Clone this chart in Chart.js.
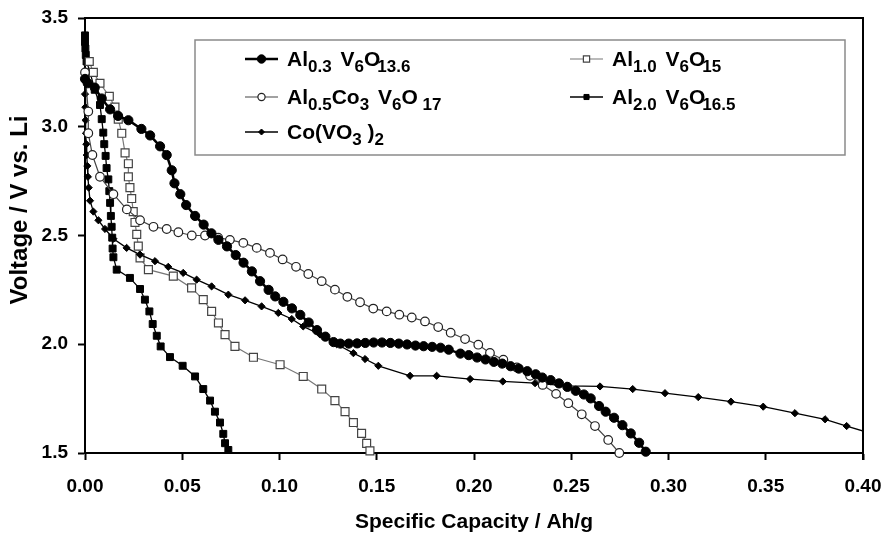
<!DOCTYPE html>
<html><head><meta charset="utf-8">
<script src="https://cdn.jsdelivr.net/npm/chart.js@4.4.1/dist/chart.umd.min.js"></script>
<style>html,body{margin:0;padding:0;background:#fff;overflow:hidden}#wrap{width:888px;height:538px;position:relative}</style>
</head><body><div id="wrap"><canvas id="c" width="888" height="538"></canvas></div>
<script>
// ---- tick labels ----
const xTicks = [0, 0.05, 0.10, 0.15, 0.20, 0.25, 0.30, 0.35, 0.40];
const yTicks = [1.5, 2.0, 2.5, 3.0, 3.5];

// ---- Al0.3V6O13.6 (filled circles) ----
const capAl03 = [0.0000,0.0014,0.0050,0.0086,0.0129,0.0170,0.0223,0.0290,0.0335,0.0386,0.0420,0.0446,0.0460,0.0490,0.0520,0.0566,0.0610,0.0650,0.0686,0.0730,0.0775,0.0815,0.0858,0.0900,0.0944,0.0978,0.1020,0.1064,0.1107,0.1150,0.1193,0.1236,0.1278,0.1313,0.1356,0.1399,0.1441,0.1484,0.1527,0.1570,0.1613,0.1656,0.1699,0.1741,0.1785,0.1828,0.1870,0.1930,0.1973,0.2016,0.2059,0.2102,0.2145,0.2188,0.2230,0.2274,0.2317,0.2351,0.2394,0.2437,0.2480,0.2523,0.2565,0.2600,0.2643,0.2677,0.2720,0.2763,0.2806,0.2849,0.2883];
const voltAl03 = [3.22,3.20,3.18,3.13,3.08,3.05,3.03,2.99,2.96,2.91,2.87,2.80,2.74,2.69,2.64,2.59,2.55,2.51,2.48,2.45,2.41,2.375,2.335,2.29,2.25,2.22,2.195,2.165,2.135,2.10,2.065,2.035,2.01,2.003,2.003,2.004,2.006,2.008,2.008,2.006,2.003,1.999,1.994,1.991,1.988,1.984,1.975,1.957,1.950,1.939,1.930,1.919,1.911,1.899,1.888,1.876,1.862,1.847,1.835,1.820,1.804,1.786,1.769,1.751,1.716,1.690,1.662,1.628,1.590,1.547,1.506];

// ---- Al0.5Co3V6O17 (open circles) ----
const capAl05 = [0.0000,0.0017,0.0017,0.0038,0.0077,0.0146,0.0215,0.0283,0.0352,0.0420,0.0480,0.0549,0.0617,0.0685,0.0745,0.0814,0.0883,0.0951,0.1016,0.1085,0.1148,0.1217,0.1285,0.1349,0.1414,0.1482,0.1551,0.1616,0.1680,0.1748,0.1816,0.1880,0.1954,0.2022,0.2082,0.2151,0.2220,0.2288,0.2353,0.2422,0.2485,0.2554,0.2622,0.2690,0.2747];
const voltAl05 = [3.25,3.07,2.97,2.87,2.77,2.69,2.62,2.57,2.54,2.53,2.515,2.50,2.50,2.49,2.48,2.466,2.443,2.42,2.39,2.356,2.323,2.29,2.251,2.218,2.193,2.164,2.151,2.136,2.123,2.105,2.079,2.053,2.024,1.998,1.96,1.929,1.893,1.855,1.813,1.772,1.729,1.678,1.624,1.56,1.50];

// ---- Co(VO3)2 (diamonds) ----
const capCo = [0.0000,0.0002,0.0003,0.0005,0.0007,0.0009,0.0012,0.0015,0.0019,0.0026,0.0043,0.0069,0.0103,0.0146,0.0214,0.0283,0.0360,0.0428,0.0505,0.0574,0.0651,0.0737,0.0823,0.0908,0.0994,0.1063,0.1122,0.1208,0.1294,0.1380,0.1440,0.1508,0.1671,0.1808,0.1980,0.2148,0.2314,0.2477,0.2648,0.2816,0.2982,0.3153,0.3321,0.3487,0.3650,0.3805,0.3916,0.4027];
const voltCo = [3.15,3.09,3.03,2.97,2.92,2.87,2.82,2.77,2.72,2.66,2.61,2.57,2.53,2.485,2.443,2.412,2.382,2.356,2.328,2.297,2.266,2.228,2.202,2.174,2.144,2.116,2.082,2.045,2.00,1.959,1.932,1.901,1.855,1.855,1.840,1.829,1.821,1.809,1.806,1.794,1.775,1.757,1.736,1.713,1.683,1.655,1.624,1.594];

// ---- Al1.0V6O15 (open squares) ----
const capAl10 = [0.0022,0.0043,0.0077,0.0125,0.0154,0.0171,0.0189,0.0206,0.0223,0.0223,0.0231,0.0240,0.0248,0.0257,0.0266,0.0274,0.0283,0.0326,0.0454,0.0548,0.0608,0.0651,0.0686,0.0720,0.0771,0.0866,0.1003,0.1122,0.1217,0.1285,0.1337,0.1380,0.1422,0.1448,0.1465];
const voltAl10 = [3.30,3.25,3.20,3.14,3.09,3.035,2.97,2.88,2.83,2.77,2.72,2.67,2.61,2.56,2.505,2.451,2.397,2.343,2.313,2.259,2.205,2.151,2.098,2.044,1.99,1.94,1.906,1.852,1.794,1.741,1.69,1.64,1.59,1.544,1.51];

// ---- Al2.0V6O16.5 (filled squares) ----
const capAl20 = [0.0000,0.0000,0.0002,0.0004,0.0008,0.0026,0.0050,0.0077,0.0086,0.0094,0.0099,0.0106,0.0111,0.0120,0.0125,0.0129,0.0133,0.0137,0.0140,0.0142,0.0146,0.0163,0.0231,0.0283,0.0308,0.0331,0.0348,0.0369,0.0389,0.0437,0.0502,0.0566,0.0608,0.0643,0.0668,0.0694,0.0711,0.0720,0.0737];
const voltAl20 = [3.42,3.39,3.36,3.33,3.30,3.25,3.17,3.10,3.035,2.973,2.92,2.866,2.81,2.758,2.704,2.65,2.59,2.54,2.49,2.44,2.40,2.343,2.305,2.254,2.205,2.151,2.093,2.039,1.99,1.941,1.901,1.852,1.794,1.741,1.69,1.64,1.588,1.545,1.514];

const yTitle = 'Voltage / V vs. Li';
const xTitle = 'Specific Capacity / Ah/g';

const xyz = (xs, ys) => xs.map((x, i) => ({x: x, y: ys[i]}));
const FONT = "'Liberation Sans', Arial, sans-serif";

const datasets = [
  {label:'Al0.3V6O13.6', data: xyz(capAl03, voltAl03), borderColor:'#000', borderWidth:2.5,
   pointStyle:'circle', pointRadius:4.6, pointBackgroundColor:'#000', pointBorderColor:'#000', pointBorderWidth:1, clip:false},
  {label:'Al0.5Co3V6O17', data: xyz(capAl05, voltAl05), borderColor:'#444', borderWidth:1.2,
   pointStyle:'circle', pointRadius:4.3, pointBackgroundColor:'#fff', pointBorderColor:'#222', pointBorderWidth:1.2, clip:false},
  {label:'Co(VO3)2', data: xyz(capCo, voltCo), borderColor:'#000', borderWidth:1.3,
   pointStyle:'rectRot', pointRadius: ctx => (ctx.raw && ctx.raw.x > 0.4 ? 0 : 3.6), pointBackgroundColor:'#000', pointBorderColor:'#000', pointBorderWidth:1,
   clip:{left:false, top:false, right:0, bottom:false}},
  {label:'Al1.0V6O15', data: xyz(capAl10, voltAl10), borderColor:'#777', borderWidth:1.2,
   pointStyle:'rect', pointRadius:5.6, pointBackgroundColor:'#fff', pointBorderColor:'#444', pointBorderWidth:1.2, clip:false},
  {label:'Al2.0V6O16.5', data: xyz(capAl20, voltAl20), borderColor:'#000', borderWidth:1.3,
   pointStyle:'rect', pointRadius:4.9, pointBackgroundColor:'#000', pointBorderColor:'#000', pointBorderWidth:1, clip:false}
];
datasets.forEach(d => { d.tension = 0; d.fill = false; d.pointHoverRadius = d.pointRadius; });

// legend entries: [dataset index, line start x, row y, marker radius, rich text segments]
const legendItems = [
  [0, 245, 59, 4.2, [['Al',0],['0.3',1],[' ',0,3],['V',0],['6',1],['O',0],['13.6',1,-3]]],
  [1, 245, 97, 3.6, [['Al',0],['0.5',1],['Co',0],['3',1],[' ',0,3],['V',0],['6',1],['O',0],[' 17',1]]],
  [2, 245, 132, 3.0, [['Co(VO',0],['3',1],[' )',0,0],['2',1]]],
  [3, 570, 59, 4.4, [['Al',0],['1.0',1],[' ',0,3],['V',0],['6',1],['O',0],['15',1,-3]]],
  [4, 570, 97, 3.6, [['Al',0],['2.0',1],[' ',0,3],['V',0],['6',1],['O',0],['16.5',1,-3]]]
];

const framePlugin = {
  id:'frame',
  afterDraw(chart){
    const {ctx, chartArea:a} = chart;
    ctx.save();
    ctx.strokeStyle = '#000'; ctx.lineWidth = 2;
    ctx.beginPath();
    ctx.moveTo(a.left, a.top); ctx.lineTo(a.right, a.top); ctx.lineTo(a.right, a.bottom + 7);
    ctx.stroke();
    // y axis title
    ctx.save();
    ctx.translate(27, 210); ctx.rotate(-Math.PI / 2);
    ctx.font = "bold 24px " + FONT; ctx.fillStyle = '#000';
    ctx.textAlign = 'center'; ctx.textBaseline = 'alphabetic';
    ctx.fillText(yTitle, 0, 0);
    ctx.restore();
    // legend box
    ctx.strokeStyle = '#8a8a8a'; ctx.lineWidth = 1.5;
    ctx.fillStyle = '#fff';
    ctx.fillRect(195, 40, 650, 115);
    ctx.strokeRect(195, 40, 650, 115);
    legendItems.forEach(([di, lx, ly, r, segs]) => {
      const ds = chart.data.datasets[di];
      ctx.strokeStyle = ds.borderColor; ctx.lineWidth = ds.borderWidth;
      ctx.beginPath(); ctx.moveTo(lx, ly); ctx.lineTo(lx + 33, ly); ctx.stroke();
      ctx.fillStyle = ds.pointBackgroundColor; ctx.strokeStyle = ds.pointBorderColor; ctx.lineWidth = ds.pointBorderWidth;
      Chart.helpers.drawPoint(ctx, {pointStyle: ds.pointStyle, rotation:0, borderWidth: ds.pointBorderWidth, radius: r}, lx + 16.5, ly);
      let tx = lx + 42;
      const by = ly + 7;
      ctx.fillStyle = '#000'; ctx.textBaseline = 'alphabetic'; ctx.textAlign = 'left';
      segs.forEach(([t, sub, dx]) => {
        ctx.font = sub ? "bold 17px " + FONT : "bold 21px " + FONT;
        if (dx) tx += dx;
        ctx.fillText(t, tx, sub ? by + 6 : by);
        tx += ctx.measureText(t).width;
      });
    });
    ctx.restore();
  }
};

new Chart(document.getElementById('c'), {
  type:'line',
  data:{datasets: datasets},
  plugins:[framePlugin],
  options:{
    responsive:false, animation:false, devicePixelRatio:1,
    layout:{padding:{left:0, right:25, top:18, bottom:0}},
    plugins:{legend:{display:false}, tooltip:{enabled:false}},
    scales:{
      x:{type:'linear', min:0, max:0.4,
        afterBuildTicks: s => { s.ticks = xTicks.map(v => ({value:v})); },
        afterFit: s => { s.height = 85; s.paddingLeft = 0; s.paddingRight = 0; },
        ticks:{callback: v => Number(v).toFixed(2), font:{family:FONT, size:19, weight:'bold'}, color:'#000', padding:15, maxRotation:0, autoSkip:false},
        grid:{display:true, drawOnChartArea:false, drawTicks:true, tickLength:7, tickWidth:2, tickColor:'#000'},
        border:{display:true, color:'#000', width:2},
        title:{display:true, text:xTitle, font:{family:FONT, size:21, weight:'bold'}, color:'#000', padding:{top:0, bottom:3}}
      },
      y:{type:'linear', min:1.5, max:3.5,
        afterBuildTicks: s => { s.ticks = yTicks.map(v => ({value:v})); },
        afterFit: s => { s.width = 85; s.paddingTop = 0; s.paddingBottom = 0; },
        ticks:{callback: v => Number(v).toFixed(1), font:{family:FONT, size:19, weight:'bold'}, color:'#000', padding:10},
        grid:{display:true, drawOnChartArea:false, drawTicks:true, tickLength:7, tickWidth:2, tickColor:'#000'},
        border:{display:true, color:'#000', width:2},
        title:{display:false}
      }
    }
  }
});
</script>
</body></html>
